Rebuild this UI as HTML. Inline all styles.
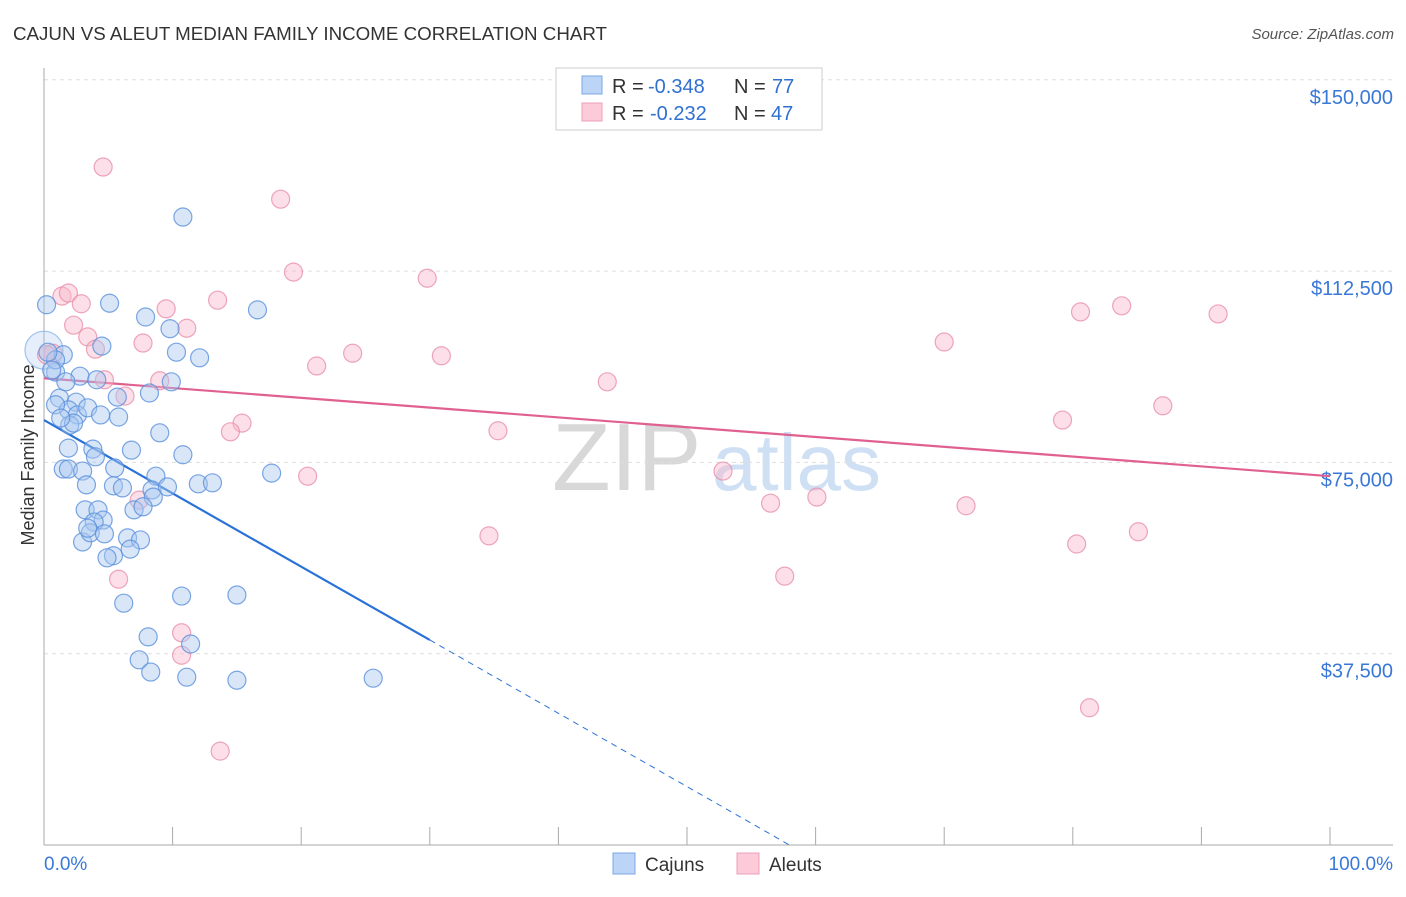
<!DOCTYPE html>
<html><head><meta charset="utf-8"><style>
body{margin:0;background:#fff;font-family:"Liberation Sans",sans-serif}
svg text{font-family:"Liberation Sans",sans-serif}
</style></head><body>
<svg id="chart" width="1406" height="892" viewBox="0 0 1406 892" xmlns="http://www.w3.org/2000/svg">
<text x="13" y="40" font-size="18" fill="#333" textLength="594" lengthAdjust="spacingAndGlyphs">CAJUN VS ALEUT MEDIAN FAMILY INCOME CORRELATION CHART</text>
<text x="1394" y="39" font-size="15" fill="#555" text-anchor="end" font-style="italic">Source: ZipAtlas.com</text>
<g>
<text x="552" y="490" font-size="96" fill="#d8d8d8" font-family="Liberation Serif, serif">ZIP</text>
<text x="712" y="490" font-size="80" fill="#cfe0f4">atlas</text>
</g>
<g id="grid"></g>
<g id="axes"></g>
<g id="lines"></g>
<g id="points"></g>
<text transform="translate(34,455) rotate(-90)" font-size="18" fill="#333" text-anchor="middle">Median Family Income</text>
<text x="44" y="870" font-size="19" fill="#3a78d8">0.0%</text>
<text x="1393" y="870" font-size="19" fill="#3a78d8" text-anchor="end">100.0%</text>
<g>
<rect x="556" y="68" width="266" height="62" fill="#fff" stroke="#ccc"/>
<rect x="582" y="76" width="20" height="18" fill="#bcd4f6" stroke="#7aa8e6"/>
<rect x="582" y="103" width="20" height="18" fill="#fccad8" stroke="#eea0b8"/>
<text x="612" y="93" font-size="20" fill="#333">R = </text><text x="648" y="93" font-size="20" fill="#3070d0">-0.348</text>
<text x="734" y="93" font-size="20" fill="#333">N = </text><text x="772" y="93" font-size="20" fill="#3070d0">77</text>
<text x="612" y="120" font-size="20" fill="#333">R = </text><text x="650" y="120" font-size="20" fill="#3070d0">-0.232</text>
<text x="734" y="120" font-size="20" fill="#333">N = </text><text x="771" y="120" font-size="20" fill="#3070d0">47</text>
</g>
<g>
<rect x="613" y="853" width="22" height="21" fill="#bcd4f6" stroke="#7aa8e6"/>
<text x="645" y="871" font-size="19" fill="#333">Cajuns</text>
<rect x="737" y="853" width="22" height="21" fill="#fccad8" stroke="#eea0b8"/>
<text x="769" y="871" font-size="19" fill="#333">Aleuts</text>
</g>
</svg>
<script>
const yTicks=[37500,75000,112500,150000];
const yTickLabels=["$37,500","$75,000","$112,500","$150,000"];
const xTicks=[0,10,20,30,40,50,60,70,80,90,100];
const cajunX=[0.2,5.1,10.8,16.6,7.9,9.8,4.5,10.3,12.1,1.5,0.9,2.8,4.1,9.9,8.2,5.7,1.2,2.5,1.9,0.9,2.6,5.8,2.0,2.3,9.0,6.8,1.9,3.8,4.0,10.8,1.5,1.9,3.0,5.5,8.7,17.7,3.3,5.4,6.1,8.4,9.6,12.0,13.1,8.5,3.2,4.2,4.6,7.0,7.7,3.9,6.5,7.5,3.0,3.6,5.4,6.7,4.9,6.2,10.7,15.0,8.1,11.4,7.4,8.3,11.1,15.0,25.6,0.9,0.3,0.6,1.3,3.4,4.4,3.4,4.7,1.7];
const cajunY=[105900,106200,123100,104900,103500,101200,97800,96600,95500,96100,92700,91900,91200,90800,88600,87800,87600,86800,85300,86300,84300,83900,82300,82700,80800,77400,77800,77600,76100,76500,73700,73700,73300,73900,72300,72900,70600,70400,70000,69600,70200,70800,71000,68200,65700,65700,63700,65700,66300,63300,60200,59800,59400,61200,56700,58000,56300,47400,48800,49000,40800,39400,36300,33900,32900,32300,32700,95100,96600,93100,83700,85700,84300,62100,61000,90800];
const aleutX=[4.6,18.4,19.4,29.8,1.4,1.9,2.9,9.5,13.5,2.3,3.4,7.7,11.1,4.0,0.7,0.2,24.0,30.9,21.2,4.7,9.0,43.8,6.3,15.4,14.5,35.3,70.0,80.6,83.8,91.3,87.0,79.2,20.5,52.8,56.5,60.1,71.7,34.6,80.3,85.1,57.6,5.8,7.4,10.7,10.7,13.7,81.3];
const aleutY=[132900,126600,112300,111100,107600,108200,106100,105100,106800,101900,99600,98400,101300,97200,96400,96100,96400,95900,93900,91200,91000,90800,88000,82700,81000,81200,98600,104500,105700,104100,86100,83300,72300,73300,67000,68200,66500,60600,59000,61400,52700,52100,67600,41600,37200,18400,26900];
const bigCajun=[0,97000];
const cajunTrend=[83300,-1437];
const aleutTrend=[91500,-192];
const X0=44,X1=1330,YB=845,YPER=191.3/37500;
const sx=v=>X0+(X1-X0)*v/100, sy=v=>YB-v*YPER;
const NS="http://www.w3.org/2000/svg";
function mk(t,a,p){const e=document.createElementNS(NS,t);for(const k in a)e.setAttribute(k,a[k]);p.appendChild(e);return e;}
const grid=document.getElementById('grid'),axes=document.getElementById('axes'),lines=document.getElementById('lines'),pts=document.getElementById('points');
yTicks.forEach((t,i)=>{
 const l=mk('line',{x1:X0,x2:1393,y1:sy(t),y2:sy(t),stroke:'#ddd','stroke-dasharray':'4,4'},grid);
 
 
 const tx=mk('text',{x:1393,y:sy(t)+24,'font-size':20,fill:'#3a78d8','text-anchor':'end'},axes);
 tx.textContent=yTickLabels[i];
 
 
});
const ya=mk('line',{x1:X0,x2:X0,y1:68,y2:YB,stroke:'#aaa'},axes);


const xa=mk('line',{x1:X0,x2:1393,y1:YB,y2:YB,stroke:'#aaa'},axes);


xTicks.forEach(t=>{
 const l=mk('line',{x1:sx(t),x2:sx(t),y1:YB,y2:YB-18,stroke:'#aaa'},axes);
 
 
});
function dot(x,y,r,fill,stroke,name,op){
 const c=mk('circle',{cx:sx(x),cy:sy(y),r:r,fill:fill,'fill-opacity':op,stroke:stroke,'stroke-opacity':0.8,'stroke-width':1.2},pts);
 
 
}
dot(bigCajun[0],bigCajun[1],19,'#a8c8f0','#8ab4e8','cajun-point',0.3);
aleutX.forEach((x,i)=>dot(x,aleutY[i],9,'#f8b8cc','#e890aa','aleut-point',0.45));
cajunX.forEach((x,i)=>dot(x,cajunY[i],9,'#a8c8f0','#5a90dc','cajun-point',0.45));
const f=(tr,x)=>tr[0]+tr[1]*x;
const z=-cajunTrend[0]/cajunTrend[1];
const b1=mk('line',{x1:sx(0),y1:sy(f(cajunTrend,0)),x2:sx(30),y2:sy(f(cajunTrend,30)),stroke:'#2a72d8','stroke-width':2.2},lines);


const b2=mk('line',{x1:sx(30),y1:sy(f(cajunTrend,30)),x2:sx(z),y2:sy(0),stroke:'#2a72d8','stroke-width':1,'stroke-dasharray':'6,5'},lines);


const p1=mk('line',{x1:sx(0),y1:sy(f(aleutTrend,0)),x2:sx(100),y2:sy(f(aleutTrend,100)),stroke:'#e06090','stroke-width':2.2},lines);


</script>
</body></html>
